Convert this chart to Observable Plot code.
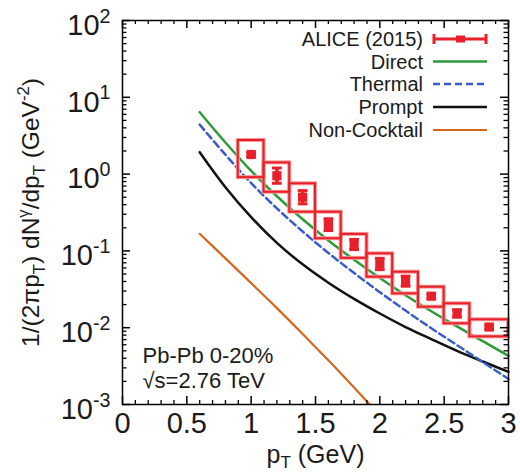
<!DOCTYPE html>
<html><head><meta charset="utf-8">
<script src="https://cdn.jsdelivr.net/npm/d3@7"></script>
<script src="https://cdn.jsdelivr.net/npm/@observablehq/plot@0.6"></script>
<style>
body{margin:0;background:#fff;}
#chart{width:520px;height:472px;}
svg text{font-family:"Liberation Sans",Arial,sans-serif;}
</style></head><body><div id="chart"></div>
<script>
// ALICE (2015) direct photon data, Pb-Pb 0-20%
const alicePt     = [1.0, 1.2, 1.4, 1.6, 1.8, 2.0, 2.2, 2.4, 2.6, 2.85];
const aliceBinLo  = [0.9, 1.1, 1.3, 1.5, 1.7, 1.9, 2.1, 2.3, 2.5, 2.7];
const aliceBinHi  = [1.1, 1.3, 1.5, 1.7, 1.9, 2.1, 2.3, 2.5, 2.7, 3.0];
const aliceY      = [1.80, 0.95, 0.50, 0.22, 0.121, 0.068, 0.040, 0.0257, 0.0155, 0.0102];
const aliceStatLo = [1.70, 0.76, 0.41, 0.184, 0.104, 0.057, 0.0347, 0.0240, 0.0137, 0.0096];
const aliceStatHi = [1.90, 1.20, 0.61, 0.262, 0.141, 0.080, 0.0469, 0.0275, 0.0171, 0.0108];
const aliceSysLo  = [0.90, 0.58, 0.319, 0.144, 0.080, 0.0455, 0.0276, 0.0185, 0.01125, 0.0076];
const aliceSysHi  = [2.74, 1.40, 0.748, 0.319, 0.164, 0.0916, 0.0528, 0.0337, 0.0205, 0.01268];

// model curves
const modelPt = [0.6, 0.8, 1.0, 1.2, 1.4, 1.6, 1.8, 2.0, 2.2, 2.4, 2.6, 2.8, 3.0];
const direct  = [6.4, 2.58, 1.10, 0.515, 0.258, 0.137, 0.0766, 0.0443, 0.0265, 0.0164, 0.0104, 0.00667, 0.0043];
const thermal = [4.4, 1.79, 0.764, 0.357, 0.179, 0.094, 0.0516, 0.029, 0.0167, 0.00984, 0.00593, 0.00357, 0.00215];
const prompt  = [1.93, 0.676, 0.275, 0.127, 0.0668, 0.0385, 0.0237, 0.0153, 0.0102, 0.0071, 0.0050, 0.00363, 0.00266];
const nonCocktailPt = [0.6, 0.8, 1.0, 1.2, 1.4, 1.6, 1.8, 2.0];
const nonCocktail   = [0.167, 0.080, 0.0381, 0.0180, 0.0083, 0.00376, 0.00166, 0.00072];

// axes
const xTicks = [0, 0.5, 1, 1.5, 2, 2.5, 3];
const xTickLabels = ["0", "0.5", "1", "1.5", "2", "2.5", "3"];
const yTicks = [100, 10, 1, 0.1, 0.01, 0.001];
const yTickExp = ["2", "1", "0", "-1", "-2", "-3"];

const legendLabels = ["ALICE (2015)", "Direct", "Thermal", "Prompt", "Non-Cocktail"];

const RED = "#e8202a", GREEN = "#2f9a3a", BLUE = "#3a5cc6", BLACK = "#111111", ORANGE = "#d2691e";

const W = 520, H = 472, ML = 122, MR = 12, MT = 20, MB = 68;
const FW = W - ML - MR, FH = H - MT - MB;

const alice = alicePt.map((x, i) => ({x, y: aliceY[i], lo: aliceBinLo[i], hi: aliceBinHi[i],
  sLo: aliceStatLo[i], sHi: aliceStatHi[i], yLo: aliceSysLo[i], yHi: aliceSysHi[i]}));
const curve = (xs, ys) => xs.map((x, i) => ({x, y: ys[i]}));

const xMinor = d3.range(1, 30).map(i => i / 10).filter(v => Math.abs(v * 2 - Math.round(v * 2)) > 1e-6);
const yMinor = [];
for (let k = -3; k <= 1; k++) for (let m = 2; m <= 9; m++) yMinor.push(m * Math.pow(10, k));

const capSymbol = {draw(ctx, size) { const w = Math.sqrt(size) / 2; ctx.moveTo(-w, 0); ctx.lineTo(w, 0); }};

const plot = Plot.plot({
  width: W, height: H, marginLeft: ML, marginRight: MR, marginTop: MT, marginBottom: MB,
  x: {domain: [0, 3], axis: null},
  y: {type: "log", domain: [1e-3, 1e2], axis: null},
  style: {fontFamily: "'Liberation Sans', Arial, sans-serif", color: "#1a1a1a", background: "white", overflow: "visible"},
  marks: [
    Plot.line(curve(nonCocktailPt, nonCocktail), {x: "x", y: "y", stroke: ORANGE, strokeWidth: 2.2, curve: "catmull-rom", clip: true}),
    Plot.line(curve(modelPt, prompt), {x: "x", y: "y", stroke: BLACK, strokeWidth: 2.5, curve: "catmull-rom"}),
    Plot.line(curve(modelPt, thermal), {x: "x", y: "y", stroke: BLUE, strokeWidth: 2.5, strokeDasharray: "7,4", curve: "catmull-rom"}),
    Plot.line(curve(modelPt, direct), {x: "x", y: "y", stroke: GREEN, strokeWidth: 2.5, curve: "catmull-rom"}),
    // systematic boxes
    Plot.rect(alice, {x1: "lo", x2: "hi", y1: "yLo", y2: "yHi", fill: "none", stroke: "#f59a9a", strokeWidth: 4}),
    Plot.rect(alice, {x1: "lo", x2: "hi", y1: "yLo", y2: "yHi", fill: "none", stroke: RED, strokeWidth: 2}),
    // statistical errors
    Plot.ruleX(alice, {x: "x", y1: "sLo", y2: "sHi", stroke: RED, strokeWidth: 3.5}),
    Plot.dot(alice, {x: "x", y: "sLo", symbol: capSymbol, r: 5.5, stroke: RED, strokeWidth: 3}),
    Plot.dot(alice, {x: "x", y: "sHi", symbol: capSymbol, r: 5.5, stroke: RED, strokeWidth: 3}),
    Plot.dot(alice, {x: "x", y: "y", symbol: "square", r: 5.2, fill: RED, stroke: "none"}),
    // ticks (inward, mirrored)
    Plot.tickY(yTicks, {y: d => d, insetRight: FW - 8, stroke: "black", strokeWidth: 1.5}),
    Plot.tickY(yTicks, {y: d => d, insetLeft: FW - 8, stroke: "black", strokeWidth: 1.5}),
    Plot.tickY(yMinor, {y: d => d, insetRight: FW - 4.5, stroke: "black", strokeWidth: 1.3}),
    Plot.tickY(yMinor, {y: d => d, insetLeft: FW - 4.5, stroke: "black", strokeWidth: 1.3}),
    Plot.tickX(xTicks, {x: d => d, insetTop: FH - 8, stroke: "black", strokeWidth: 1.5}),
    Plot.tickX(xTicks, {x: d => d, insetBottom: FH - 8, stroke: "black", strokeWidth: 1.5}),
    Plot.tickX(xMinor, {x: d => d, insetTop: FH - 4, stroke: "black", strokeWidth: 1.3}),
    Plot.tickX(xMinor, {x: d => d, insetBottom: FH - 4, stroke: "black", strokeWidth: 1.3}),
    Plot.frame({stroke: "black", strokeWidth: 1.5}),
    // tick labels
    Plot.text(yTicks, {y: d => d, frameAnchor: "left", text: (d, i) => "10^{" + yTickExp[i] + "}",
      textAnchor: "end", lineAnchor: "middle", dx: -12, dy: 5, fontSize: 29, fill: "#1a1a1a"}),
    Plot.text(xTicks, {x: d => d, frameAnchor: "bottom", text: (d, i) => xTickLabels[i],
      textAnchor: "middle", lineAnchor: "top", dy: 8, fontSize: 29, fill: "#1a1a1a"}),
    // axis titles
    Plot.text(["p_{T} (GeV)"], {frameAnchor: "bottom", text: d => d, textAnchor: "middle", lineAnchor: "middle", dy: 50, fontSize: 25, fill: "#1a1a1a"}),
    Plot.text(["1/(2πp_{T}) dN^{γ}/dp_{T} (GeV^{-2})"], {frameAnchor: "left", text: d => d, rotate: -90,
      textAnchor: "middle", lineAnchor: "middle", dx: -91, fontSize: 24.5, fill: "#1a1a1a"}),
    // annotation
    Plot.text(["Pb-Pb 0-20%"], {frameAnchor: "bottom-left", text: d => d, textAnchor: "start", lineAnchor: "middle", dx: 20, dy: -49, fontSize: 22, fill: "#1a1a1a"}),
    Plot.text(["√s=2.76 TeV"], {frameAnchor: "bottom-left", text: d => d, textAnchor: "start", lineAnchor: "middle", dx: 20, dy: -24, fontSize: 22, fill: "#1a1a1a"})
  ]
});

// rich text: ^{..} superscript, _{..} subscript
const NS = "http://www.w3.org/2000/svg";
function richText(el) {
  const s = el.textContent;
  if (!/[\^_]\{/.test(s)) return;
  el.textContent = "";
  const re = /([\^_])\{([^}]*)\}/g;
  let last = 0, m, shift = 0;
  function add(txt, kind) {
    if (!txt) return;
    const t = document.createElementNS(NS, "tspan");
    t.textContent = txt;
    let target = 0, scale = 1;
    if (kind === "sup") { t.setAttribute("font-size", "68%"); target = -0.42; scale = 0.68; }
    else if (kind === "sub") { t.setAttribute("font-size", "68%"); target = 0.22; scale = 0.68; }
    const delta = target - shift;
    if (Math.abs(delta) > 1e-9) t.setAttribute("dy", (delta / scale).toFixed(3) + "em");
    shift = target;
    el.appendChild(t);
  }
  while ((m = re.exec(s))) { add(s.slice(last, m.index), null); add(m[2], m[1] === "^" ? "sup" : "sub"); last = re.lastIndex; }
  add(s.slice(last), null);
}
d3.select(plot).selectAll("text").each(function() { richText(this); });

// legend (top-right, inside frame)
const svg = d3.select(plot);
const lg = svg.append("g").attr("font-family", "'Liberation Sans', Arial, sans-serif").attr("font-size", 20);
const rowY = [39, 61.5, 84, 107, 130];
const styles = [
  {stroke: RED, width: 3},
  {stroke: GREEN, width: 2.5},
  {stroke: BLUE, width: 2.5, dash: "7,4"},
  {stroke: BLACK, width: 2.5},
  {stroke: ORANGE, width: 2.2}
];
legendLabels.forEach((lab, i) => {
  const y = rowY[i];
  lg.append("text").attr("x", 423).attr("y", y).attr("dy", "0.36em").attr("text-anchor", "end")
    .attr("fill", "#1a1a1a").text(lab);
  const st = styles[i];
  const ln = lg.append("line").attr("x1", 433).attr("x2", 487).attr("y1", y).attr("y2", y)
    .attr("stroke", st.stroke).attr("stroke-width", st.width);
  if (st.dash) ln.attr("stroke-dasharray", st.dash);
  if (i === 0) {
    lg.append("line").attr("x1", 434).attr("x2", 434).attr("y1", y - 5).attr("y2", y + 5).attr("stroke", RED).attr("stroke-width", 3);
    lg.append("line").attr("x1", 486).attr("x2", 486).attr("y1", y - 5).attr("y2", y + 5).attr("stroke", RED).attr("stroke-width", 3);
    lg.append("rect").attr("x", 456).attr("y", y - 3.5).attr("width", 9).attr("height", 7).attr("fill", RED);
  }
});

document.getElementById("chart").appendChild(plot);
</script></body></html>
